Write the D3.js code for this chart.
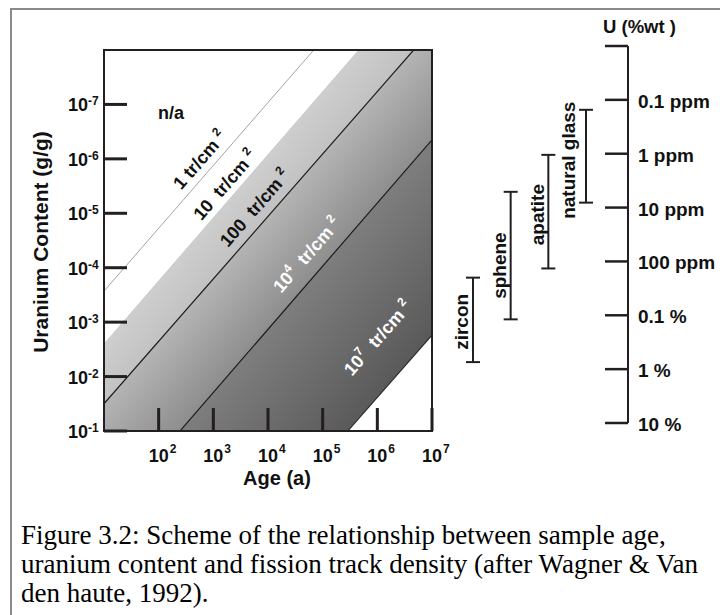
<!DOCTYPE html>
<html>
<head>
<meta charset="utf-8">
<script src="https://cdn.jsdelivr.net/npm/d3@7"></script>
<style>
  html, body { margin: 0; padding: 0; background: #fff; }
  svg { display: block; }
  text { white-space: pre; }
</style>
</head>
<body>
<svg id="chart" width="720" height="615"></svg>
<script>
// ---- data -------------------------------------------------------------
// Decades shown on the age (x) and uranium content (y) axes
const ageExponents = [2, 3, 4, 5, 6, 7];
const uraniumExponents = [-7, -6, -5, -4, -3, -2, -1];

// Iso track-density lines, each given by two points (age in a, U in g/g)
const densityLabels = ["1", "10", "100", "10^4", "10^7"];
const lineAges = [[10, 10 ** 4.836], [10, 10 ** 5.66], [10, 10 ** 6.665], [10 ** 2.39, 1e7], [10 ** 5.46, 1e7]];
const lineUranium = [[10 ** -3.57, 1e-8], [10 ** -2.60, 1e-8], [10 ** -1.50, 1e-8], [1e-1, 10 ** -6.35], [1e-1, 10 ** -2.76]];
// Centre of each density label (age, U)
const labelAges = [10 ** 2.756, 10 ** 3.213, 10 ** 3.762, 10 ** 4.713, 10 ** 6.012];
const labelUranium = [10 ** -5.979, 10 ** -5.520, 10 ** -5.097, 10 ** -4.234, 10 ** -2.709];

// Concentration scale on the right (g/g and its label)
const concValues = [1e-8, 1e-7, 1e-6, 1e-5, 1e-4, 1e-3, 1e-2, 1e-1];
const concLabels = ["", "0.1 ppm", "1 ppm", "10 ppm", "100 ppm", "0.1 %", "1 %", "10 %"];

// Typical uranium content ranges of datable materials (g/g)
const minerals = ["zircon", "sphene", "apatite", "natural glass"];
const mineralLow = [2.0e-4, 5.1e-6, 1.05e-6, 1.53e-7];
const mineralHigh = [7.4e-3, 1.19e-3, 1.35e-4, 8.1e-6];

const captionLines = [
  "Figure 3.2: Scheme of the relationship between sample age,",
  "uranium content and fission track density (after Wagner & Van",
  "den haute, 1992)."
];

// ---- layout & style ---------------------------------------------------
const sans = "'Liberation Sans', Arial, Helvetica, sans-serif";
const serif = "'Liberation Serif', 'Times New Roman', serif";
const ink = "#231f20";
const plot = { left: 104, top: 50, right: 432, bottom: 431 };

const svg = d3.select("#chart");

const x = d3.scaleLog().domain([10, 1e7]).range([plot.left, plot.right]);
const y = d3.scaleLog().domain([1e-8, 1e-1]).range([plot.top, plot.bottom]);
const yR = d3.scaleLog().domain([1e-8, 1e-1]).range([46, 423]);

// page frame
svg.append("path")
  .attr("d", "M11,615V9H720")
  .attr("fill", "none").attr("stroke", "#8a8a8a").attr("stroke-width", 2);

const defs = svg.append("defs");
defs.append("clipPath").attr("id", "plotClip")
  .append("rect")
  .attr("x", plot.left).attr("y", plot.top)
  .attr("width", plot.right - plot.left).attr("height", plot.bottom - plot.top);

// iso-density line functions in log space
const lines = densityLabels.map((lab, i) => {
  const [t1, t2] = lineAges[i];
  const [u1, u2] = lineUranium[i];
  const b = (Math.log10(u2) - Math.log10(u1)) / (Math.log10(t2) - Math.log10(t1));
  const uAt = t => Math.pow(10, Math.log10(u1) + b * (Math.log10(t) - Math.log10(t1)));
  const pt = t => [x(t), y(uAt(t))];
  return { lab, uAt, pt };
});

const ext = [1, 1e8];
const bandStyles = [
  null,
  ["#cecece", "#c2c2c2"],
  ["#b4b4b4", "#8e8e8e"],
  ["#7e7e7e", "#5a5a5a"]
];

const cross = (a, b) => a[0] * b[1] - a[1] * b[0];
const gBands = svg.append("g").attr("clip-path", "url(#plotClip)");

bandStyles.forEach((cols, i) => {
  if (!cols) return;
  const A = lines[i], B = lines[i + 1];
  const a0 = A.pt(ext[0]), a1 = A.pt(ext[1]);
  const b0 = B.pt(ext[0]), b1 = B.pt(ext[1]);
  // gradient across the band, perpendicular to its edges
  const p = A.pt(1e4);
  const dLen = Math.hypot(a1[0] - a0[0], a1[1] - a0[1]);
  const d = [(a1[0] - a0[0]) / dLen, (a1[1] - a0[1]) / dLen];
  const n = [-d[1], d[0]];
  const dB = [b1[0] - b0[0], b1[1] - b0[1]];
  const s = cross([b0[0] - p[0], b0[1] - p[1]], dB) / cross(n, dB);
  const gid = "band" + i;
  const grad = defs.append("linearGradient").attr("id", gid)
    .attr("gradientUnits", "userSpaceOnUse")
    .attr("x1", p[0]).attr("y1", p[1])
    .attr("x2", p[0] + s * n[0]).attr("y2", p[1] + s * n[1]);
  grad.append("stop").attr("offset", 0).attr("stop-color", cols[0]);
  grad.append("stop").attr("offset", 1).attr("stop-color", cols[1]);
  gBands.append("path")
    .attr("d", d3.line()([a0, a1, b1, b0]) + "Z")
    .attr("fill", `url(#${gid})`);
});

const lineStyles = [
  { stroke: "#8c8c8c", w: 0.8 },
  { stroke: "#b8b8b8", w: 0.5 },
  { stroke: "#1a1a1a", w: 1.2 },
  { stroke: "#1a1a1a", w: 1.2 },
  { stroke: "#2a2a2a", w: 1.1 }
];
lines.forEach((L, i) => {
  gBands.append("path")
    .attr("d", d3.line()([L.pt(ext[0]), L.pt(ext[1])]))
    .attr("fill", "none")
    .attr("stroke", lineStyles[i].stroke)
    .attr("stroke-width", lineStyles[i].w);
});

// density labels along the lines
lines.forEach((L, i) => {
  const p0 = L.pt(10), p1 = L.pt(1e7);
  const ang = Math.atan2(p1[1] - p0[1], p1[0] - p0[0]) * 180 / Math.PI;
  const cx = x(labelAges[i]), cy = y(labelUranium[i]);
  const t = svg.append("text")
    .attr("transform", `translate(${cx},${cy}) rotate(${ang})`)
    .attr("y", 6)
    .attr("text-anchor", "middle")
    .attr("font-family", sans).attr("font-weight", "bold").attr("font-size", 18)
    .attr("fill", i >= 3 ? "#ffffff" : "#111");
  const [base, exp] = L.lab.split("^");
  t.append("tspan").text(base);
  if (exp) {
    t.append("tspan").attr("font-size", 12).attr("dy", -8).text(exp);
    t.append("tspan").attr("dy", 8).text("  tr/cm ");
  } else {
    t.append("tspan").text(base.length > 1 ? "  tr/cm " : " tr/cm ");
  }
  t.append("tspan").attr("font-size", 12).attr("dy", -8).text("2");
});

// n/a region label
svg.append("text")
  .attr("x", x(10 ** 1.99)).attr("y", y(10 ** -6.74))
  .attr("font-family", sans).attr("font-weight", "bold").attr("font-size", 18)
  .attr("fill", "#111").text("n/a");

// plot frame
svg.append("rect")
  .attr("x", plot.left).attr("y", plot.top)
  .attr("width", plot.right - plot.left).attr("height", plot.bottom - plot.top)
  .attr("fill", "none").attr("stroke", ink).attr("stroke-width", 2);

// y axis ticks and labels
const gy = svg.append("g");
uraniumExponents.forEach(e => {
  const yy = y(Math.pow(10, e));
  gy.append("line").attr("x1", plot.left).attr("x2", plot.left + 23)
    .attr("y1", yy).attr("y2", yy).attr("stroke", ink).attr("stroke-width", 3);
  gy.append("text").attr("x", 88).attr("y", yy + 7).attr("text-anchor", "end")
    .attr("font-family", sans).attr("font-weight", "bold").attr("font-size", 18)
    .attr("fill", "#111").text("10");
  gy.append("text").attr("x", 88).attr("y", yy + 1)
    .attr("font-family", sans).attr("font-weight", "bold").attr("font-size", 12)
    .attr("fill", "#111").text("-" + Math.abs(e));
});

// x axis ticks and labels
const gx = svg.append("g");
ageExponents.forEach(e => {
  const xx = x(Math.pow(10, e));
  gx.append("line").attr("x1", xx).attr("x2", xx)
    .attr("y1", plot.bottom).attr("y2", plot.bottom - 23)
    .attr("stroke", ink).attr("stroke-width", 3);
  gx.append("text").attr("x", xx).attr("y", 462).attr("text-anchor", "middle")
    .attr("font-family", sans).attr("font-weight", "bold").attr("font-size", 18)
    .attr("fill", "#111").text("10");
  gx.append("text").attr("x", xx + 11).attr("y", 453)
    .attr("font-family", sans).attr("font-weight", "bold").attr("font-size", 12)
    .attr("fill", "#111").text(String(e));
});

// axis titles
svg.append("text")
  .attr("x", 277).attr("y", 485)
  .attr("text-anchor", "middle")
  .attr("font-family", sans).attr("font-weight", "bold").attr("font-size", 20)
  .attr("fill", "#111").text("Age (a)");
svg.append("text")
  .attr("transform", `translate(48,242) rotate(-90)`)
  .attr("text-anchor", "middle")
  .attr("font-family", sans).attr("font-weight", "bold").attr("font-size", 21)
  .attr("fill", "#111").text("Uranium Content (g/g)");

// right concentration axis
const axisX = 628;
const gr = svg.append("g");
gr.append("line").attr("x1", axisX).attr("x2", axisX)
  .attr("y1", yR(concValues[0])).attr("y2", yR(concValues[concValues.length - 1]))
  .attr("stroke", ink).attr("stroke-width", 2);
concValues.forEach((v, i) => {
  const yy = yR(v);
  gr.append("line").attr("x1", axisX - 23).attr("x2", axisX)
    .attr("y1", yy).attr("y2", yy).attr("stroke", ink).attr("stroke-width", 2.5);
  if (concLabels[i]) {
    gr.append("text").attr("x", 638).attr("y", yy + 8)
      .attr("font-family", sans).attr("font-weight", "bold").attr("font-size", 19)
      .attr("fill", "#111").text(concLabels[i]);
  }
});
svg.append("text").attr("x", 603).attr("y", 33)
  .attr("font-family", sans).attr("font-weight", "bold").attr("font-size", 18.5)
  .attr("fill", "#111").text("U (%wt )");

// mineral uranium ranges
const mx = d3.scalePoint().domain(minerals).range([473, 586]);
const labelNudge = { "zircon": [-5, 2], "sphene": [-5, 10], "apatite": [-4, 3], "natural glass": [-11, 4] };
minerals.forEach((m, i) => {
  const bx = mx(m), y0 = yR(mineralLow[i]), y1 = yR(mineralHigh[i]);
  const g = svg.append("g").attr("stroke", ink).attr("stroke-width", 2);
  g.append("line").attr("x1", bx).attr("x2", bx).attr("y1", y0).attr("y2", y1);
  g.append("line").attr("x1", bx - 7).attr("x2", bx + 7).attr("y1", y0).attr("y2", y0);
  g.append("line").attr("x1", bx - 7).attr("x2", bx + 7).attr("y1", y1).attr("y2", y1);
  const [nx, ny] = labelNudge[m];
  svg.append("text")
    .attr("transform", `translate(${bx + nx},${(y0 + y1) / 2 + ny}) rotate(-90)`)
    .attr("text-anchor", "middle")
    .attr("font-family", sans).attr("font-weight", "bold").attr("font-size", 19)
    .attr("fill", "#111").text(m);
});

// caption
svg.append("g").selectAll("text").data(captionLines).join("text")
  .attr("x", 21).attr("y", (d, i) => 544 + i * 29)
  .attr("font-family", serif).attr("font-size", 27)
  .attr("fill", "#000").text(d => d);
</script>
</body>
</html>
